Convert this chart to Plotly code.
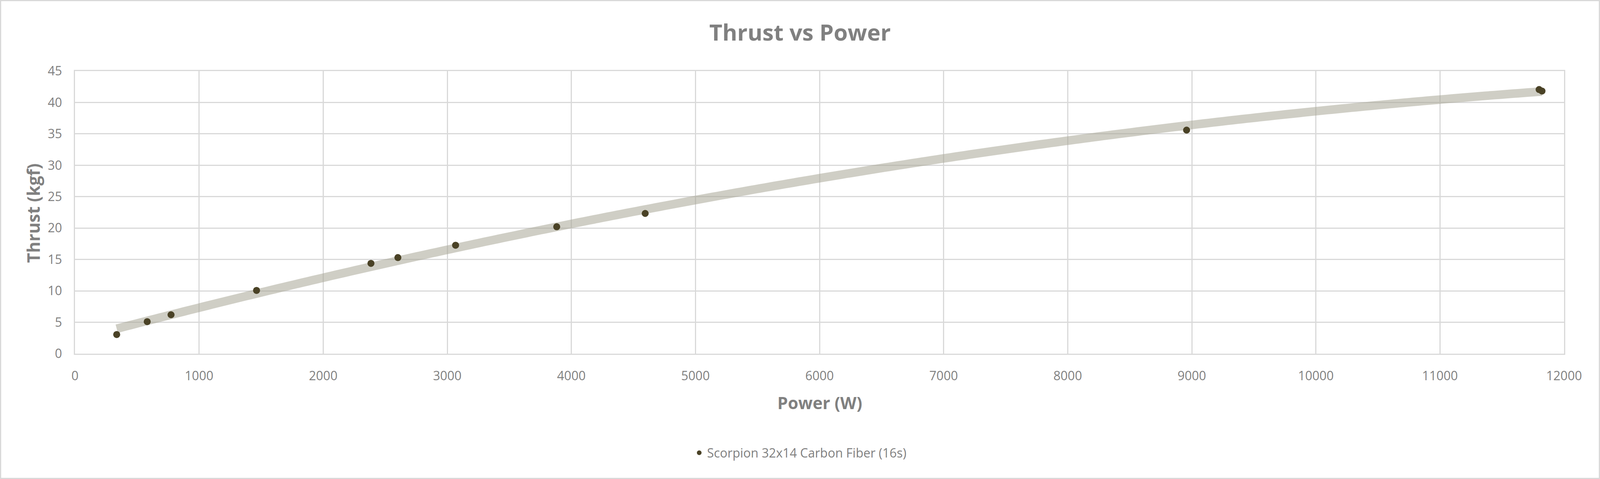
import numpy as np
import plotly.graph_objects as go

# Data
power_w = [336, 582, 774, 1463, 2385, 2602, 3067, 3882, 4595, 8958, 11799, 11822]
thrust_kgf = [3.05, 5.1, 6.2, 10.07, 14.38, 15.3, 17.27, 20.21, 22.33, 35.6, 42.06, 41.82]
series_name = "Scorpion 32x14 Carbon Fiber (16s)"
x_ticks = [0, 1000, 2000, 3000, 4000, 5000, 6000, 7000, 8000, 9000, 10000, 11000, 12000]
y_ticks = [0, 5, 10, 15, 20, 25, 30, 35, 40, 45]

# viewport is 4096 x 1227 css px
VW, VH = 4096, 1227
ML, MR, MT, MB = 192, 92, 182, 321
PW, PH = VW - ML - MR, VH - MT - MB
GRAY_TXT = "#808080"
GRID = "#d9d9d9"

# Polynomial (order 2) trendline
coef = np.polyfit(power_w, thrust_kgf, 2)
tx = np.linspace(min(power_w), max(power_w), 300)
ty = np.polyval(coef, tx)

fig = go.Figure()
fig.add_trace(go.Scatter(
    x=tx, y=ty, mode="lines", showlegend=False, hoverinfo="skip",
    line=dict(color="rgba(168,165,150,0.55)", width=22, simplify=False),
))
fig.add_trace(go.Scatter(
    x=power_w, y=thrust_kgf, mode="markers", name=series_name,
    marker=dict(color="#4a4226", size=18),
))

fig.update_layout(
    margin=dict(l=ML, r=MR, t=MT, b=MB, autoexpand=False),
    paper_bgcolor="white", plot_bgcolor="white",
    font=dict(family="Open Sans", color=GRAY_TXT),
    title=dict(text="<b>Thrust vs Power</b>", x=0.5, xanchor="center",
               y=1 - 84 / VH, yanchor="middle", yref="container",
               font=dict(size=58, color=GRAY_TXT, family="Open Sans")),
    showlegend=True,
    legend=dict(orientation="h", x=0.5, xanchor="center", xref="container",
                y=1 - 1160 / VH, yanchor="middle", yref="container",
                font=dict(size=32, color=GRAY_TXT), itemsizing="constant"),
    xaxis=dict(range=[0, 12000], tickvals=x_ticks, ticktext=[str(v) for v in x_ticks],
               showgrid=True, gridcolor=GRID, gridwidth=2.5,
               showline=True, linecolor=GRID, linewidth=2.5, mirror=True,
               zeroline=False, ticks="", ticklabelstandoff=27,
               tickfont=dict(size=32, color=GRAY_TXT)),
    yaxis=dict(range=[0, 45], tickvals=y_ticks, ticktext=[str(v) for v in y_ticks],
               showgrid=True, gridcolor=GRID, gridwidth=2.5,
               showline=True, linecolor=GRID, linewidth=2.5, mirror=True,
               zeroline=False, ticks="", ticklabelstandoff=24,
               tickfont=dict(size=32, color=GRAY_TXT)),
    annotations=[
        dict(text="<b>Power (W)</b>", xref="paper", yref="paper",
             x=0.5, y=(906 - 1031) / PH, xanchor="center", yanchor="middle",
             showarrow=False, font=dict(size=43, color=GRAY_TXT)),
        dict(text="<b>Thrust (kgf)</b>", xref="paper", yref="paper",
             x=(85 - ML) / PW, y=0.497, xanchor="center", yanchor="middle",
             textangle=-90, showarrow=False, font=dict(size=44, color=GRAY_TXT)),
    ],
    shapes=[dict(type="rect", xref="paper", yref="paper",
                 x0=-(ML - 1.5) / PW, x1=1 + (MR - 1.5) / PW,
                 y0=-(MB - 1.5) / PH, y1=1 + (MT - 1.5) / PH,
                 line=dict(color=GRID, width=3), layer="below")],
)

fig.write_html("out.html", default_width="100vw", default_height="100vh",
               config={"displayModeBar": False},
               post_script="document.body.style.margin='0';document.body.style.overflow='hidden';")
